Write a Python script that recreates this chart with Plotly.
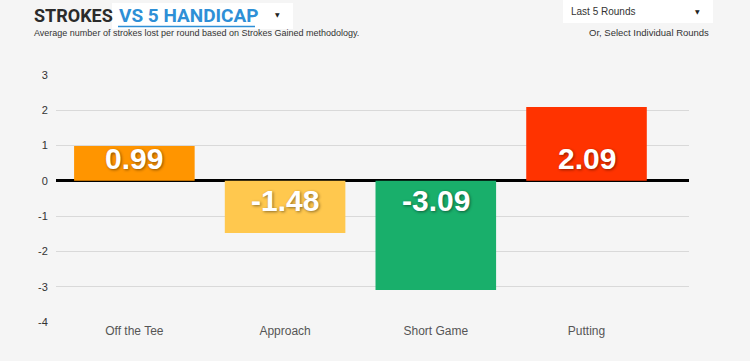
import plotly.graph_objects as go

categories = ["Off the Tee", "Approach", "Short Game", "Putting"]
values = [0.99, -1.48, -3.09, 2.09]
bar_colors = ["#FF9500", "#FFC84E", "#19AF6B", "#FF3300"]
y_ticks = [3, 2, 1, 0, -1, -2, -3, -4]

W, H = 750, 361
ML, MR, MT, MB = 56, 61, 75, 39
PW, PH = W - ML - MR, H - MT - MB

def px(x):
    return (x - ML) / PW

def py(y):
    return 1 - (y - MT) / PH

fig = go.Figure()
fig.add_trace(go.Bar(
    x=categories, y=values, marker=dict(color=bar_colors, line=dict(width=0)),
    width=0.8, hoverinfo="skip",
))

# value labels near the zero line
for c, v in zip(categories, values):
    fig.add_annotation(
        x=c, y=0, xref="x", yref="y", text=f"<b>{v:.2f}</b>", showarrow=False,
        yanchor="bottom" if v >= 0 else "top", yshift=4 if v >= 0 else -1,
        font=dict(family="Arial, Liberation Sans, sans-serif", size=30, color="white",
                  shadow="1px 1px 3px rgba(0,0,0,0.45)"),
    )

shapes = [
    # title box
    dict(type="rect", xref="paper", yref="paper", x0=px(112), x1=px(293), y0=py(29), y1=py(3),
         fillcolor="white", line=dict(width=0), layer="below"),
    # underline
    dict(type="line", xref="paper", yref="paper", x0=px(118), x1=px(255), y0=py(26.5), y1=py(26.5),
         line=dict(color="#2E8FD6", width=1.5)),
    # right dropdown box
    dict(type="rect", xref="paper", yref="paper", x0=px(563), x1=px(713), y0=py(23), y1=py(0),
         fillcolor="white", line=dict(width=0), layer="below"),
]

ann = [
    dict(text="<b>STROKES</b>", x=px(32), y=py(15.5), xanchor="left", yanchor="middle",
         font=dict(family="Roboto, Arial, sans-serif", size=18, color="#2b2b2b", weight=900)),
    dict(text="<b>VS 5 HANDICAP</b>", x=px(117), y=py(15.5), xanchor="left", yanchor="middle",
         font=dict(family="Roboto, Arial, sans-serif", size=19, color="#2E8FD6", weight=900)),
    dict(text="▼", x=px(277), y=py(14), xanchor="center", yanchor="middle",
         font=dict(family="DejaVu Sans", size=6, color="#222")),
    dict(text="Average number of strokes lost per round based on Strokes Gained methodology.",
         x=px(32), y=py(32.5), xanchor="left", yanchor="middle",
         font=dict(family="Arial, Liberation Sans, sans-serif", size=9, color="#333")),
    dict(text="Last 5 Rounds", x=px(569), y=py(11), xanchor="left", yanchor="middle",
         font=dict(family="Arial, Liberation Sans, sans-serif", size=10, color="#333")),
    dict(text="▼", x=px(697), y=py(12), xanchor="center", yanchor="middle",
         font=dict(family="DejaVu Sans", size=6, color="#222")),
    dict(text="Or, Select Individual Rounds", x=px(711), y=py(32), xanchor="right", yanchor="middle",
         font=dict(family="Arial, Liberation Sans, sans-serif", size=9.5, color="#333")),
]
for a in ann:
    a.update(xref="paper", yref="paper", showarrow=False)
    fig.add_annotation(**a)

fig.update_layout(
    width=W, height=H, margin=dict(l=ML, r=MR, t=MT, b=MB, pad=0),
    paper_bgcolor="#F5F5F5", plot_bgcolor="#F5F5F5",
    showlegend=False, shapes=shapes, bargap=0.2,
    font=dict(family="Arial, Liberation Sans, sans-serif", color="#444"),
)
fig.update_xaxes(
    range=[-0.52, 3.68], showgrid=False, showline=False, zeroline=False,
    tickfont=dict(size=12, color="#555"), ticks="",
    fixedrange=True,
)
fig.update_yaxes(
    range=[-4, 3], tickvals=y_ticks, ticktext=[str(t) for t in y_ticks],
    showgrid=True, gridcolor="#D9D9D9", gridwidth=1,
    zeroline=True, zerolinecolor="#000000", zerolinewidth=3, showline=False,
    tickfont=dict(size=11, color="#333"), ticks="outside", ticklen=5, tickcolor="rgba(0,0,0,0)",
    fixedrange=True,
)

fig.write_html(
    "out.html", config={"displayModeBar": False},
    post_script="document.body.style.margin='0';document.body.style.padding='0';"
                "document.body.style.background='#F5F5F5';document.body.style.overflow='hidden';",
)
